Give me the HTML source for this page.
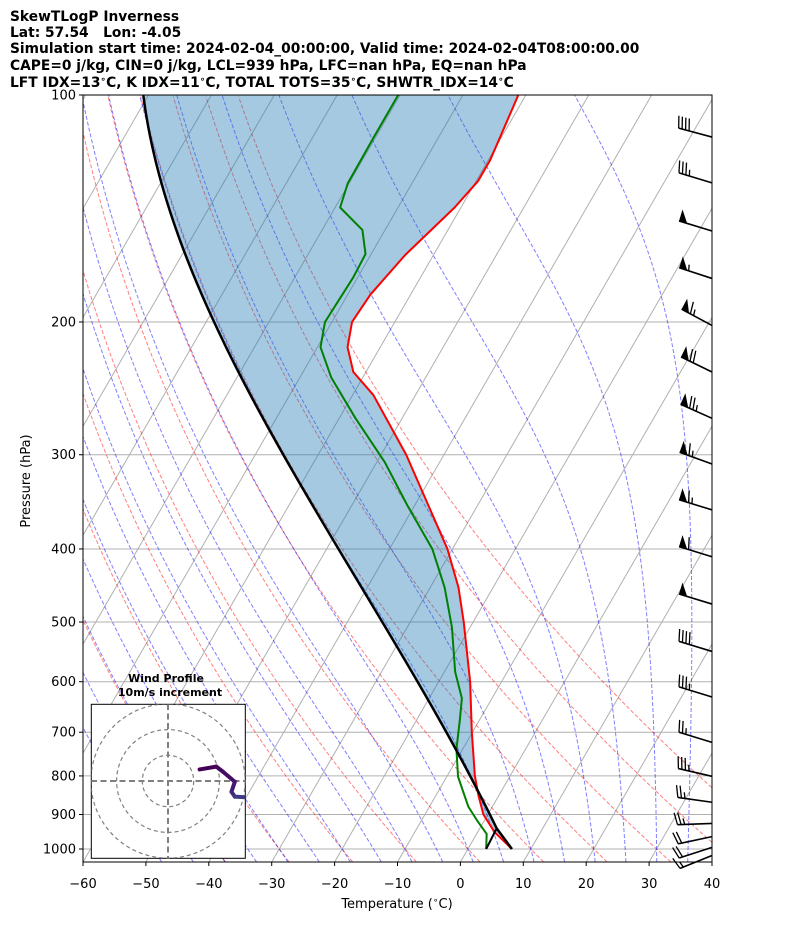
<!DOCTYPE html>
<html><head><meta charset="utf-8"><style>
html,body{margin:0;padding:0;background:#fff;}
svg{display:block;font-family:"DejaVu Sans","Liberation Sans",sans-serif;}
</style></head><body>
<svg id="chart" width="794" height="937" viewBox="0 0 794 937" xmlns="http://www.w3.org/2000/svg">
<defs><clipPath id="plotclip"><rect x="83" y="95" width="629" height="767"/></clipPath>
<clipPath id="hodoclip"><rect x="91.3" y="704.3" width="154" height="154"/></clipPath></defs>
<g font-weight="bold" font-size="13.8" fill="#000">
<text x="10" y="21">SkewTLogP Inverness</text>
<text x="10" y="37">Lat: 57.54&#160;&#160;&#160;Lon: -4.05</text>
<text x="10" y="53">Simulation start time: 2024-02-04_00:00:00, Valid time: 2024-02-04T08:00:00.00</text>
<text x="10" y="70">CAPE=0 j/kg, CIN=0 j/kg, LCL=939 hPa, LFC=nan hPa, EQ=nan hPa</text>
<text x="10" y="87">LFT IDX=13<tspan font-size="9" dy="-5">∘</tspan><tspan dy="5">C, K IDX=11</tspan><tspan font-size="9" dy="-5">∘</tspan><tspan dy="5">C, TOTAL TOTS=35</tspan><tspan font-size="9" dy="-5">∘</tspan><tspan dy="5">C, SHWTR_IDX=14</tspan><tspan font-size="9" dy="-5">∘</tspan><tspan dy="5">C</tspan></text>
</g>
<g id="bg" clip-path="url(#plotclip)"></g>
<g id="fg" clip-path="url(#plotclip)"></g>
<rect x="83" y="95" width="629" height="767" fill="none" stroke="#000" stroke-width="1"/>
<g id="axes"></g>
<g id="barbs"></g>
<g id="hodo"></g>
<text x="397" y="908" font-size="13" text-anchor="middle">Temperature (<tspan font-size="9" dy="-5">∘</tspan><tspan dy="5">C)</tspan></text>
<text x="0" y="0" font-size="13" text-anchor="middle" transform="translate(30,481) rotate(-90)">Pressure (hPa)</text>
</svg>
<script>
// ---- data ----
const tempP = [1000,950,900,850,800,700,600,500,450,400,300,250,233,216,200,184,163,141,130,122,100];
const tempT = [7,2.7,-0.7,-3.2,-5.6,-10.1,-15,-21.5,-25.5,-30.8,-46,-56.7,-62,-65.2,-66.8,-66.4,-64.5,-61,-59.7,-59.7,-61.2];
const dewP = [1000,955,916,879,802,737,675,631,582,508,450,400,350,307,268,237,216,200,174.5,162.5,151,141,131,114,100];
const dewT = [2.9,1.6,-1.2,-3.8,-8.2,-11,-13.1,-14.8,-18.3,-22.9,-27.7,-33.2,-41.2,-48.7,-57.5,-65,-69.5,-71.1,-70.7,-70.9,-73.6,-79.2,-80.2,-80.3,-80.3];
const parcelP = [1000,939,850,800,737,600,500,400,300,224.5,198.8,160.5,131,118.3,100];
const parcelT = [7,2.4,-2.8,-6.4,-11.1,-23,-33.7,-48.9,-66,-82.2,-89.3,-99.9,-109.5,-113.9,-121.3];
const barbP = [113.7,130.8,151.5,175.1,202.1,233,268.4,308.6,355,409.6,473.3,547,628.6,722,801,867,925,963,995,1020];
const barbSpd = [40,35,50,55,65,70,75,65,65,60,50,40,35,25,35,25,25,20,20,15];
const barbDir = [285,287,287,288,298,296,294,290,287,287,287,287,287,287,283,278,268,258,252,248];
const hodoU = [12.3,18.8,21.4,26,24.7,26,30];
const hodoV = [4.5,5.6,3.6,-0.3,-4.2,-6.1,-6.3];
const xTicks = [-60,-50,-40,-30,-20,-10,0,10,20,30,40];
const yTicks = [100,200,300,400,500,600,700,800,900,1000];
const dryT0 = [-40,-30,-20,-10,0,10,20,30,40,50];
const moistT0 = [-50,-45,-40,-35,-30,-25,-20,-15,-10,-5,0,5,10,15,20,25,30,35,40,45];
const isoT = [-150,-140,-130,-120,-110,-100,-90,-80,-70,-60,-50,-40,-30,-20,-10,0,10,20,30,40];

// ---- axes ----
const NS='http://www.w3.org/2000/svg';
const PB = 100*Math.pow(10,767/754);
function yP(p){return 95+754*Math.log10(p/100);}
function xT(T,p){return 83+(T+60)*6.29+(862-yP(p))*0.5774;}
function mk(tag,attrs,parent){const e=document.createElementNS(NS,tag);for(const k in attrs)e.setAttribute(k,attrs[k]);parent.appendChild(e);return e;}
function pathFrom(pts){return pts.map((q,i)=>(i?'L':'M')+q[0].toFixed(2)+','+q[1].toFixed(2)).join('');}
// least-squares cubic fit x(y)
function fitCubic(pts){const n=4;const A=[],b=[];for(let i=0;i<n;i++){A.push(new Array(n).fill(0));b.push(0);}
 pts.forEach(q=>{const t=(q[1]-480)/400;const v=[1,t,t*t,t*t*t];for(let i=0;i<n;i++){b[i]+=v[i]*q[0];for(let j=0;j<n;j++)A[i][j]+=v[i]*v[j];}});
 for(let i=0;i<n;i++){let m=i;for(let r=i+1;r<n;r++)if(Math.abs(A[r][i])>Math.abs(A[m][i]))m=r;[A[i],A[m]]=[A[m],A[i]];[b[i],b[m]]=[b[m],b[i]];
  for(let r=0;r<n;r++){if(r===i)continue;const f=A[r][i]/A[i][i];for(let c=i;c<n;c++)A[r][c]-=f*A[i][c];b[r]-=f*b[i];}}
 const co=b.map((v,i)=>v/A[i][i]);return y=>{const t=(y-480)/400;return co[0]+co[1]*t+co[2]*t*t+co[3]*t*t*t;};}
const Rd=287.04,Cp=1005.7,Lv=2.501e6,eps=0.622;
function dTdp(p,T){const es=6.112*Math.exp(17.67*(T-273.15)/(T-29.65));const rs=eps*es/Math.max(p-es,1);return (Rd*T+Lv*rs)/(Cp+Lv*Lv*rs*eps/(Rd*T*T))/p;}
function moist(p0,TK,p1){const out=[[p0,TK]];const n=Math.max(1,Math.ceil(Math.abs(p1-p0)/4));const dp=(p1-p0)/n;let p=p0,T=TK;for(let i=0;i<n;i++){const k1=dTdp(p,T);const k2=dTdp(p+dp/2,T+dp/2*k1);T+=dp*k2;p+=dp;out.push([p,T]);}return out;}

const bg=document.getElementById('bg'), fg=document.getElementById('fg'), axes=document.getElementById('axes');
yTicks.forEach(p=>{const l=mk('line',{x1:83,x2:712,y1:yP(p),y2:yP(p),stroke:'#b0b0b0','stroke-width':1},bg);

});
isoT.forEach(t=>{const l=mk('line',{x1:xT(t,PB),y1:862,x2:xT(t,100),y2:95,stroke:'#b0b0b0','stroke-width':1},bg);

});
dryT0.forEach(t0=>{const pts=[];for(let p=PB;p>=99;p-=10){const T=(t0+273.15)*Math.pow(p/1000,0.2857)-273.15;pts.push([xT(T,p),yP(p)]);}
const e=mk('path',{d:pathFrom(pts),fill:'none',stroke:'red','stroke-opacity':0.5,'stroke-width':1,'stroke-dasharray':'4,2'},bg);

});
moistT0.forEach(t0=>{const up=moist(1000,t0+273.15,100);const dn=moist(1000,t0+273.15,PB).reverse();const all=dn.concat(up.slice(1));
const pts=all.map(q=>[xT(q[1]-273.15,q[0]),yP(q[0])]);
const e=mk('path',{d:pathFrom(pts),fill:'none',stroke:'blue','stroke-opacity':0.5,'stroke-width':1,'stroke-dasharray':'4,2'},bg);

});

// parcel: straight dry segment to LCL, smooth fitted curve above
const rawParcel=parcelP.map((p,i)=>[xT(parcelT[i],p),yP(p)]);
const fx=fitCubic(rawParcel.slice(1));
const parcelPts=[rawParcel[0]];
const yL=rawParcel[1][1];
for(let y=yL;y>=95;y-=3){parcelPts.push([fx(y),y]);}
parcelPts.push([fx(95),95]);
const tempPts=tempP.map((p,i)=>[xT(tempT[i],p),yP(p)]);
const fillPts=tempPts.concat(parcelPts.slice().reverse());
const fill=mk('path',{d:pathFrom(fillPts)+'Z',fill:'#1f77b4','fill-opacity':0.4,stroke:'none'},fg);


const tl=mk('path',{d:pathFrom(tempPts),fill:'none',stroke:'#ff0000','stroke-width':2,'stroke-linejoin':'round'},fg);


const dewPts=dewP.map((p,i)=>[xT(dewT[i],p),yP(p)]);
const dl=mk('path',{d:pathFrom(dewPts),fill:'none',stroke:'#008000','stroke-width':2,'stroke-linejoin':'round'},fg);


const pl=mk('path',{d:pathFrom(parcelPts),fill:'none',stroke:'#000','stroke-width':2.5},fg);


const ml=mk('line',{x1:xT(dewT[0],dewP[0]),y1:yP(dewP[0]),x2:parcelPts[1][0],y2:parcelPts[1][1],stroke:'#000','stroke-width':2},fg);



xTicks.forEach(t=>{const x=83+(t+60)*6.29;
const tk=mk('line',{x1:x,x2:x,y1:862,y2:866,stroke:'#000'},axes);


const tx=mk('text',{x:x,y:888,'font-size':13,'text-anchor':'middle'},axes);
tx.textContent=(t<0?'\u2212':'')+Math.abs(t);

});
yTicks.forEach(p=>{const y=yP(p);
const tk=mk('line',{x1:79,x2:83,y1:y,y2:y,stroke:'#000'},axes);


const tx=mk('text',{x:76,y:y+4.5,'font-size':13,'text-anchor':'end'},axes);
tx.textContent=String(p);

});

const bgrp=document.getElementById('barbs');
barbP.forEach((p,i)=>{
 const d=barbDir[i]*Math.PI/180, L=34.5;
 const u=[Math.sin(d),-Math.cos(d)];
 const bx=712, by=yP(p);
 const tip=[bx+u[0]*L,by+u[1]*L];
 const g=mk('g',{},bgrp);
 
 
 mk('line',{x1:bx,y1:by,x2:tip[0],y2:tip[1],stroke:'#000','stroke-width':1.6},g);
 let perp=[u[1],-u[0]]; if(perp[1]>0) perp=[-perp[0],-perp[1]];
 const w=[-u[0],-u[1]];
 let spd=barbSpd[i], s=0;
 const P=(ss)=>[tip[0]+w[0]*ss,tip[1]+w[1]*ss];
 const nf=Math.floor(spd/50); spd-=nf*50;
 const nb=Math.floor(spd/10); spd-=nb*10;
 const nh=spd>=5?1:0;
 const H=12, fw=8.5, sp=3.6;
 for(let k=0;k<nf;k++){const a=P(s),b=P(s+fw);
  mk('polygon',{points:[a,b,[a[0]+perp[0]*H,a[1]+perp[1]*H]].map(q=>q.join(',')).join(' '),fill:'#000'},g); s+=fw+1.5;}
 if(nf===0&&nb===0&&nh) s+=sp;
 for(let k=0;k<nb;k++){const a=P(s);
  mk('line',{x1:a[0],y1:a[1],x2:a[0]+perp[0]*H-w[0]*3,y2:a[1]+perp[1]*H-w[1]*3,stroke:'#000','stroke-width':1.3},g); s+=sp;}
 if(nh){const a=P(s);
  mk('line',{x1:a[0],y1:a[1],x2:a[0]+perp[0]*H*0.5-w[0]*1.5,y2:a[1]+perp[1]*H*0.5-w[1]*1.5,stroke:'#000','stroke-width':1.3},g);}
});

const hg=document.getElementById('hodo');
const hx=168, hy=781, hs=2.57;
const hb=mk('rect',{x:91.3,y:704.3,width:154,height:154,fill:'#fff',stroke:'#000','stroke-width':1},hg);


const hin=mk('g',{'clip-path':'url(#hodoclip)'},hg);
[10,20,30].forEach(r=>{const c=mk('circle',{cx:hx,cy:hy,r:r*hs,fill:'none',stroke:'#808080','stroke-width':1.2,'stroke-dasharray':'4,3'},hin);

});
const c1=mk('line',{x1:91,x2:246,y1:hy,y2:hy,stroke:'#808080','stroke-width':2,'stroke-dasharray':'6,3.5'},hin);


const c2=mk('line',{x1:hx,x2:hx,y1:704,y2:859,stroke:'#808080','stroke-width':2,'stroke-dasharray':'6,3.5'},hin);


const cols=['#440154','#45075d','#460f66','#46186f','#432a7a','#3e3a83','#3b4a88'];
for(let i=0;i<hodoU.length-1;i++){
 const sg=mk('line',{x1:hx+hodoU[i]*hs,y1:hy-hodoV[i]*hs,x2:hx+hodoU[i+1]*hs,y2:hy-hodoV[i+1]*hs,stroke:cols[i],'stroke-width':4,'stroke-linecap':'round'},hin);
 
 
}
const ht1=mk('text',{x:166,y:682,'font-size':11,'font-weight':'bold','text-anchor':'middle'},hg);
ht1.textContent='Wind Profile';


const ht2=mk('text',{x:170,y:696,'font-size':11,'font-weight':'bold','text-anchor':'middle'},hg);
ht2.textContent='10m/s increment';


</script>
</body></html>
